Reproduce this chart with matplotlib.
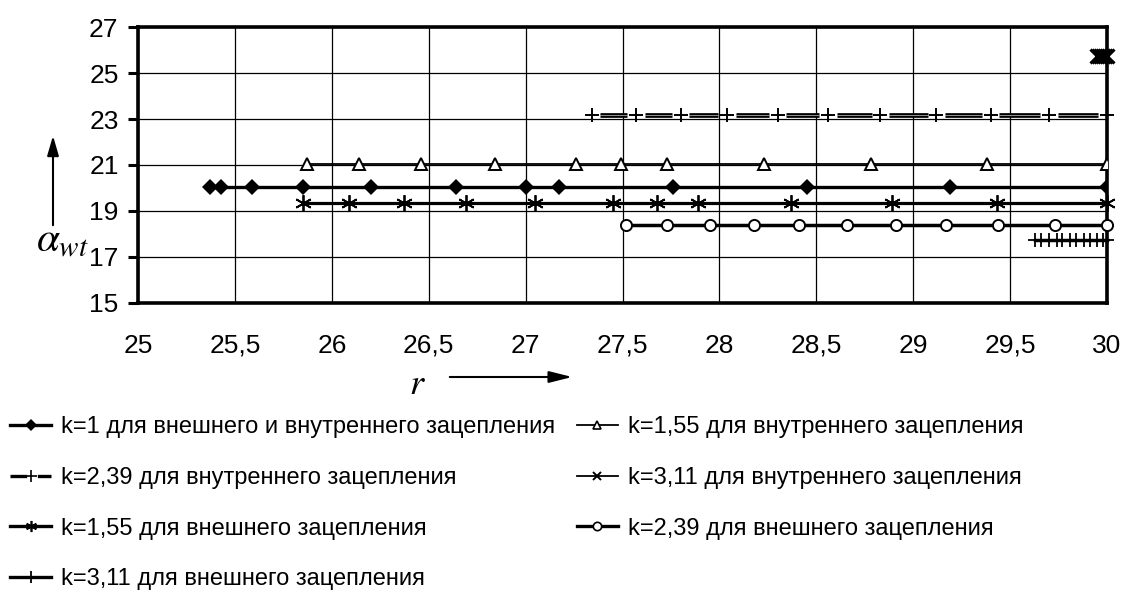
import numpy as np
import matplotlib.pyplot as plt
from matplotlib.lines import Line2D

plt.rcParams['font.family'] = ['Liberation Sans', 'DejaVu Sans']
plt.rcParams['mathtext.fontset'] = 'stix'

# k=1, внешнее и внутреннее зацепление
r_k1 = [25.37, 25.43, 25.59, 25.85, 26.20, 26.64, 27.0, 27.17, 27.76, 28.45, 29.19, 30.0]
a_k1 = [20.04] * len(r_k1)

# k=1,55 внутреннее
r_k155_in = [25.87, 26.14, 26.46, 26.84, 27.26, 27.49, 27.73, 28.23, 28.78, 29.38, 30.0]
a_k155_in = [21.06] * len(r_k155_in)

# k=2,39 внутреннее
r_k239_in = [27.34, 27.57, 27.80, 28.04, 28.30, 28.56, 28.83, 29.12, 29.40, 29.70, 30.0]
a_k239_in = [23.19] * len(r_k239_in)

# k=3,11 внутреннее
r_k311_in = [29.95, 29.96, 29.97, 29.98, 29.99, 30.0]
a_k311_in = [25.76] * len(r_k311_in)

# k=1,55 внешнее
r_k155_ex = [25.85, 26.09, 26.37, 26.69, 27.05, 27.45, 27.68, 27.89, 28.37, 28.89, 29.43, 30.0]
a_k155_ex = [19.35] * len(r_k155_ex)

# k=2,39 внешнее
r_k239_ex = [27.52, 27.73, 27.95, 28.18, 28.41, 28.66, 28.91, 29.17, 29.44, 29.73, 30.0]
a_k239_ex = [18.39] * len(r_k239_ex)

# k=3,11 внешнее
r_k311_ex = [29.63, 29.66, 29.70, 29.74, 29.77, 29.81, 29.84, 29.88, 29.91, 29.95, 29.98, 30.0]
a_k311_ex = [17.75] * len(r_k311_ex)

labels = ['k=1 для внешнего и внутреннего зацепления',
          'k=1,55 для внутреннего зацепления',
          'k=2,39 для внутреннего зацепления',
          'k=3,11 для внутреннего зацепления',
          'k=1,55 для внешнего зацепления',
          'k=2,39 для внешнего зацепления',
          'k=3,11 для внешнего зацепления']

x_ticks = np.arange(25, 30.01, 0.5)
y_ticks = np.arange(15, 27.01, 2)

fig = plt.figure(figsize=(11.24, 5.95), dpi=100)
ax = fig.add_axes([0.1228, 0.4908, 0.8621, 0.4638])

ast = (6, 2, 0)

ax.plot(r_k1, a_k1, color='black', lw=2.4, marker='D', ms=8, mew=0, zorder=4)
ax.plot(r_k155_in, a_k155_in, color='black', lw=1.3, marker='^', ms=9,
        mfc='white', mec='black', mew=1.4, zorder=4)

# штриховая линия: отрезки между маркерами с разрывами
gap = 0.045
for i in range(len(r_k239_in) - 1):
    xa, xb = r_k239_in[i] + gap, r_k239_in[i + 1] - gap
    ax.plot([xa, xb], [a_k239_in[i], a_k239_in[i + 1]], color='black', lw=3.4,
            solid_capstyle='butt', zorder=4)
    ax.plot([xa, xb], [a_k239_in[i], a_k239_in[i + 1]], color='white', lw=0.4,
            solid_capstyle='butt', zorder=4)
ax.plot(r_k239_in, a_k239_in, ls='none', marker='+', ms=10, mew=1.4,
        color='black', zorder=5, clip_on=False)

ax.plot(r_k311_in, a_k311_in, color='black', lw=1.0, marker='x', ms=10, mew=2.2,
        zorder=5, clip_on=False)
ax.plot(r_k155_ex, a_k155_ex, color='black', lw=2.3, marker=ast, ms=12, mew=1.3,
        zorder=4, clip_on=False)
ax.plot(r_k239_ex, a_k239_ex, color='black', lw=2.5, marker='o', ms=8,
        mfc='white', mec='black', mew=1.4, zorder=4, clip_on=False)
ax.plot(r_k311_ex, a_k311_ex, color='black', lw=2.5, marker='+', ms=10, mew=1.3,
        zorder=4, clip_on=False)

ax.set_xlim(25, 30)
ax.set_ylim(15, 27)
ax.set_xticks(x_ticks)
ax.set_xticklabels([('%g' % v).replace('.', ',') for v in x_ticks])
ax.set_yticks(y_ticks)
ax.set_yticklabels(['%d' % v for v in y_ticks])
ax.set_xticks([25, 30], minor=True)
ax.tick_params(axis='x', which='major', length=0, pad=22, labelsize=19)
ax.tick_params(axis='x', which='minor', length=7, width=2.2, direction='out')
ax.tick_params(axis='y', length=7, width=2.2, direction='out', pad=7, labelsize=19)
ax.grid(True, color='black', lw=0.9)
ax.set_axisbelow(True)
for s in ax.spines.values():
    s.set_linewidth(2.6)

# подписи осей со стрелками
fig.text(36, 354, r'$\alpha_{wt}$', fontsize=30, transform=None, va='center', ha='left')
ax.annotate('', xy=(53, 595 - 133), xytext=(53, 595 - 228), xycoords='figure pixels',
            textcoords='figure pixels',
            arrowprops=dict(arrowstyle='-|>,head_length=1.2,head_width=0.35',
                            mutation_scale=10, color='black', lw=1.5))
fig.text(417, 595 - 385, r'$r$', fontsize=26, transform=None, va='center', ha='center')
ax.annotate('', xy=(575, 595 - 377), xytext=(447, 595 - 377), xycoords='figure pixels',
            textcoords='figure pixels',
            arrowprops=dict(arrowstyle='-|>,head_length=1.4,head_width=0.35',
                            mutation_scale=10, color='black', lw=1.5))

# легенда
h_k1 = Line2D([], [], color='black', lw=2.4, marker='D', ms=6, mew=0)
h_k155_in = Line2D([], [], color='black', lw=1.3, marker='^', ms=6, mfc='white', mec='black', mew=1.2)
h_k239_in = Line2D([], [], color='black', lw=2.4, ls=(0, (5, 3.2)), marker='+', ms=8, mew=1.2)
h_k311_in = Line2D([], [], color='black', lw=1.3, marker='x', ms=6, mew=1.4)
h_k155_ex = Line2D([], [], color='black', lw=2.4, marker=ast, ms=8, mew=1.2)
h_k239_ex = Line2D([], [], color='black', lw=2.4, marker='o', ms=6, mfc='white', mec='black', mew=1.2)
h_k311_ex = Line2D([], [], color='black', lw=2.4, marker='+', ms=8, mew=1.3)

handles = [h_k1, h_k239_in, h_k155_ex, h_k311_ex, h_k155_in, h_k311_in, h_k239_ex]
leg_labels = [labels[0], labels[2], labels[4], labels[6], labels[1], labels[3], labels[5]]
fig.legend(handles, leg_labels, ncol=2, loc='upper left',
           bbox_to_anchor=(10 / 1124, 1 - 416 / 595), frameon=False, fontsize=17,
           handlelength=1.75, handletextpad=0.42, columnspacing=0.9, labelspacing=1.22,
           borderaxespad=0, borderpad=0)

fig.savefig('out.png', dpi=100)
